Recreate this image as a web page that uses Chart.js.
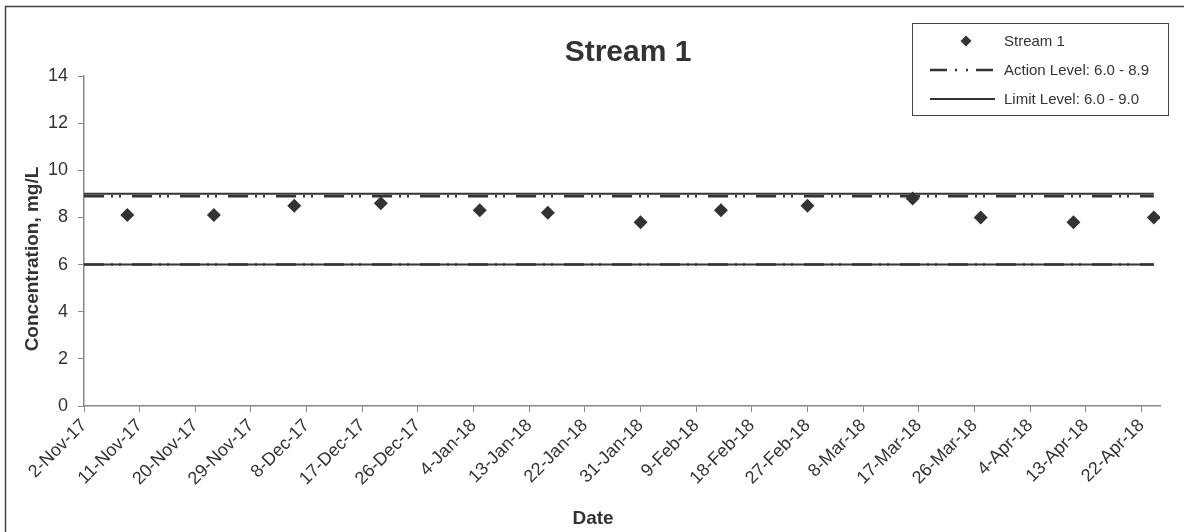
<!DOCTYPE html>
<html>
<head>
<meta charset="utf-8">
<script src="https://cdn.jsdelivr.net/npm/chart.js@4.4.0/dist/chart.umd.min.js"></script>
<style>
  html, body { margin: 0; padding: 0; background: #fff; }
  #wrap { width: 1184px; height: 532px; }
</style>
</head>
<body>
<div id="wrap"><canvas id="chart" width="1184" height="532"></canvas></div>
<script>
// sample dates and values for Stream 1
const sampleDates = ['9-Nov-17', '23-Nov-17', '6-Dec-17', '20-Dec-17', '5-Jan-18', '16-Jan-18', '31-Jan-18',
                     '13-Feb-18', '27-Feb-18', '16-Mar-18', '27-Mar-18', '11-Apr-18', '24-Apr-18'];
const sampleValues = [8.1, 8.1, 8.5, 8.6, 8.3, 8.2, 7.8, 8.3, 8.5, 8.8, 8.0, 7.8, 8.0];

// x axis tick labels (every 9 days)
const tickLabels = ['2-Nov-17', '11-Nov-17', '20-Nov-17', '29-Nov-17', '8-Dec-17', '17-Dec-17', '26-Dec-17',
                    '4-Jan-18', '13-Jan-18', '22-Jan-18', '31-Jan-18', '9-Feb-18', '18-Feb-18', '27-Feb-18',
                    '8-Mar-18', '17-Mar-18', '26-Mar-18', '4-Apr-18', '13-Apr-18', '22-Apr-18'];
const axisStart = '2-Nov-17';
const axisEnd = '25-Apr-18';

// level lines: [low, high], drawn across the sampled period
const levelSpan = ['2-Nov-17', '24-Apr-18'];
const actionLevel = [6.0, 8.9];
const limitLevel = [6.0, 9.0];

const MONTHS = {Jan: 0, Feb: 1, Mar: 2, Apr: 3, May: 4, Jun: 5, Jul: 6, Aug: 7, Sep: 8, Oct: 9, Nov: 10, Dec: 11};
function dayNum(s) {
  const p = s.split('-');
  const t = Date.UTC(2000 + Number(p[2]), MONTHS[p[1]], Number(p[0]));
  const [d0, m0, y0] = axisStart.split('-');
  const t0 = Date.UTC(2000 + Number(y0), MONTHS[m0], Number(d0));
  return Math.round((t - t0) / 864e5);
}

const FONT = "'Liberation Sans', Arial, sans-serif";
const INK = '#333';
const ACTION_DASH = [20, 7, 2, 6, 2, 11];

function levelLine(y) {
  return levelSpan.map(d => ({x: dayNum(d), y: y}));
}

const datasets = [
  {
    label: 'Stream 1',
    data: sampleDates.map((d, i) => ({x: dayNum(d), y: sampleValues[i]})),
    pointStyle: 'rectRot',
    pointRadius: 7,
    backgroundColor: INK,
    borderColor: INK,
    borderWidth: 0,
    showLine: false,
    legend: true
  },
  {
    label: 'Limit Level: 6.0 - 9.0',
    data: levelLine(limitLevel[1]),
    showLine: true, borderColor: INK, borderWidth: 2, pointRadius: 0, legend: true
  },
  {
    label: 'Limit low',
    data: levelLine(limitLevel[0]),
    showLine: true, borderColor: INK, borderWidth: 2, pointRadius: 0
  },
  {
    label: 'Action Level: 6.0 - 8.9',
    data: levelLine(actionLevel[1]),
    showLine: true, borderColor: INK, borderWidth: 2.5, borderDash: ACTION_DASH, pointRadius: 0, legend: true
  },
  {
    label: 'Action low',
    data: levelLine(actionLevel[0]),
    showLine: true, borderColor: INK, borderWidth: 2.5, borderDash: ACTION_DASH, pointRadius: 0
  }
];

// titles, legend box and frame
const decorations = {
  id: 'decorations',
  afterDraw(chart) {
    const ctx = chart.ctx;
    ctx.save();

    // outer frame (only top/left edges are inside the picture)
    ctx.strokeStyle = '#444';
    ctx.lineWidth = 1.5;
    ctx.strokeRect(5.5, 6.5, 1300, 700);

    ctx.fillStyle = INK;
    ctx.font = 'bold 30px ' + FONT;
    ctx.textAlign = 'center';
    ctx.textBaseline = 'alphabetic';
    ctx.fillText('Stream 1', 628, 61);

    ctx.font = 'bold 19px ' + FONT;
    ctx.fillText('Date', 593, 524);

    ctx.save();
    ctx.translate(38, 259);
    ctx.rotate(-Math.PI / 2);
    ctx.fillText('Concentration, mg/L', 0, 0);
    ctx.restore();

    // legend
    const lx = 912, ly = 23, lw = 256, lh = 92;
    ctx.fillStyle = '#fff';
    ctx.fillRect(lx, ly, lw, lh);
    ctx.strokeStyle = '#444';
    ctx.lineWidth = 1;
    ctx.strokeRect(lx + 0.5, ly + 0.5, lw, lh);

    const items = [datasets[0], datasets[3], datasets[1]];
    ctx.font = '15px ' + FONT;
    ctx.textAlign = 'left';
    ctx.textBaseline = 'middle';
    items.forEach((ds, i) => {
      const y = 41 + i * 29;
      if (ds.showLine) {
        ctx.beginPath();
        ctx.setLineDash(ds.borderDash ? [17, 8, 2, 9, 2, 8] : []);
        ctx.lineWidth = ds.borderWidth;
        ctx.strokeStyle = ds.borderColor;
        ctx.moveTo(930, y);
        ctx.lineTo(995, y);
        ctx.stroke();
        ctx.setLineDash([]);
      } else {
        const r = 5.5;
        ctx.beginPath();
        ctx.moveTo(966 - r, y);
        ctx.lineTo(966, y - r);
        ctx.lineTo(966 + r, y);
        ctx.lineTo(966, y + r);
        ctx.closePath();
        ctx.fillStyle = ds.backgroundColor;
        ctx.fill();
      }
      ctx.fillStyle = INK;
      ctx.fillText(ds.label, 1004, y + 1);
    });

    ctx.restore();
  }
};

new Chart(document.getElementById('chart'), {
  type: 'scatter',
  data: {datasets: datasets},
  options: {
    responsive: false,
    animation: false,
    devicePixelRatio: 1,
    layout: {padding: {left: 0, right: 24, top: 76, bottom: 0}},
    plugins: {
      legend: {display: false},
      title: {display: false},
      tooltip: {enabled: false}
    },
    scales: {
      x: {
        type: 'linear',
        min: dayNum(axisStart),
        max: dayNum(axisEnd),
        afterBuildTicks: s => { s.ticks = tickLabels.map(l => ({value: dayNum(l)})); },
        afterFit: s => { s.height = 126; },
        ticks: {
          callback: (v, i) => tickLabels[i],
          autoSkip: false,
          minRotation: 45,
          maxRotation: 45,
          padding: 3,
          color: INK,
          font: {family: FONT, size: 18}
        },
        grid: {drawOnChartArea: false, tickLength: 6, color: '#888'},
        border: {color: '#888', width: 1.5}
      },
      y: {
        min: 0,
        max: 14,
        afterFit: s => { s.width = 84; },
        ticks: {stepSize: 2, padding: 10, color: INK, font: {family: FONT, size: 18}},
        grid: {drawOnChartArea: false, tickLength: 6, color: '#888'},
        border: {color: '#888', width: 1.5}
      }
    }
  },
  plugins: [decorations]
});
</script>
</body>
</html>
